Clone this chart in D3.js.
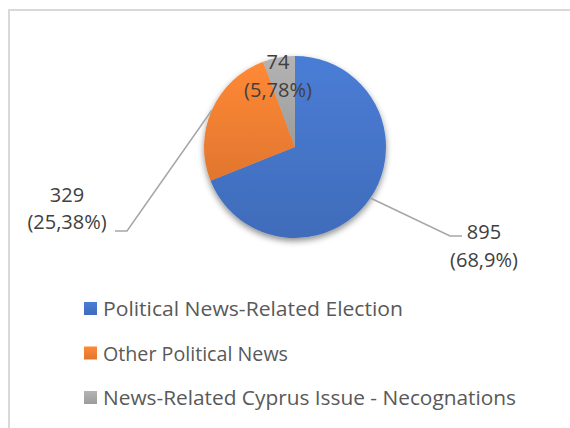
<!DOCTYPE html>
<html>
<head>
<meta charset="utf-8">
<script src="https://cdn.jsdelivr.net/npm/d3@7/dist/d3.min.js"></script>
<style>
  body { margin: 0; background: #fff; }
  svg text { font-family: "Open Sans", "Noto Sans", sans-serif; }
</style>
</head>
<body>
<div id="chart"></div>
<script>
// data
var categories = ["Political News-Related Election", "Other Political News", "News-Related Cyprus Issue - Necognations"];
var values = [895, 329, 74];
var valueLabels = ["895", "329", "74"];
var pctLabels = ["(68,9%)", "(25,38%)", "(5,78%)"];
var colors = ["#4472C4", "#ED7D31", "#A5A5A5"];

var w = 570, h = 428;
var svg = d3.select("#chart").append("svg")
  .attr("width", w).attr("height", h);

//frame (only top and left edge visible)
svg.append("path")
  .attr("d", "M9,428 L9,10 L570,10")
  .attr("fill", "none")
  .attr("stroke", "#d9d9d9")
  .attr("stroke-width", 2);

var defs = svg.append("defs");
var f = defs.append("filter").attr("id", "shadow")
  .attr("x", "-20%").attr("y", "-20%").attr("width", "140%").attr("height", "150%");
f.append("feDropShadow").attr("dx", 0).attr("dy", 3).attr("stdDeviation", 3)
  .attr("flood-color", "#000").attr("flood-opacity", 0.45);

colors.forEach(function(c, i) {
  var g = defs.append("linearGradient").attr("id", "grad" + i)
    .attr("x1", 0).attr("y1", 0).attr("x2", 0).attr("y2", 1);
  g.append("stop").attr("offset", "0%").attr("stop-color", d3.color(c).brighter(0.25));
  g.append("stop").attr("offset", "100%").attr("stop-color", d3.color(c).darker(0.15));
});

var cx = 295, cy = 147, r = 91;

var pie = d3.pie().sort(null).value(function(d) { return d; });
var arcs = pie(values);
var arc = d3.arc().innerRadius(0).outerRadius(r);

var pg = svg.append("g").attr("transform", "translate(" + cx + "," + cy + ")");
var slices = pg.append("g").attr("filter", "url(#shadow)");
slices.selectAll("path").data(arcs).enter().append("path")
  .attr("d", arc)
  .attr("fill", function(d, i) { return "url(#grad" + i + ")"; });

//leader lines: from slice midpoint on the edge to label anchor
var edge = function(d) {
  var a = (d.startAngle + d.endAngle) / 2;
  return [Math.sin(a) * r, -Math.cos(a) * r];
};
var leaders = [
  { i: 0, elbow: [450 - cx, 236 - cy], end: [462 - cx, 236 - cy] },
  { i: 1, elbow: [127 - cx, 231 - cy], end: [115 - cx, 231 - cy] }
];
pg.selectAll("path.leader").data(leaders).enter().append("path")
  .attr("class", "leader")
  .attr("d", function(d) {
    var p = edge(arcs[d.i]);
    return "M" + p[0] + "," + p[1] + "L" + d.elbow[0] + "," + d.elbow[1] + "L" + d.end[0] + "," + d.end[1];
  })
  .attr("fill", "none")
  .attr("stroke", "#a6a6a6")
  .attr("stroke-width", 1.5);

//data labels
var labelPos = [[484, 232, 260], [67, 195, 222], [278, 62, 90]];
labelPos.forEach(function(p, i) {
  var t = svg.append("g").attr("fill", "#404040").style("font-size", "20px").attr("text-anchor", "middle");
  t.append("text").attr("x", p[0]).attr("y", p[1]).attr("dy", "0.35em").text(valueLabels[i]);
  t.append("text").attr("x", p[0]).attr("y", p[2]).attr("dy", "0.35em").text(pctLabels[i]);
});

//legend
var legendY = d3.scalePoint().domain(categories).range([309, 398]);
var lg = svg.append("g").selectAll("g").data(categories).enter().append("g")
  .attr("transform", function(d) { return "translate(84," + legendY(d) + ")"; });
lg.append("rect")
  .attr("x", 0).attr("y", -7).attr("width", 13).attr("height", 13)
  .attr("fill", function(d, i) { return "url(#grad" + i + ")"; });
var legendW = [300, 185, 413];
lg.append("text")
  .attr("x", 19).attr("y", 0).attr("dy", "0.35em")
  .attr("fill", "#595959")
  .style("font-size", "20px")
  .attr("textLength", function(d, i) { return legendW[i]; })
  .attr("lengthAdjust", "spacingAndGlyphs")
  .text(function(d) { return d; });
</script>
</body>
</html>
